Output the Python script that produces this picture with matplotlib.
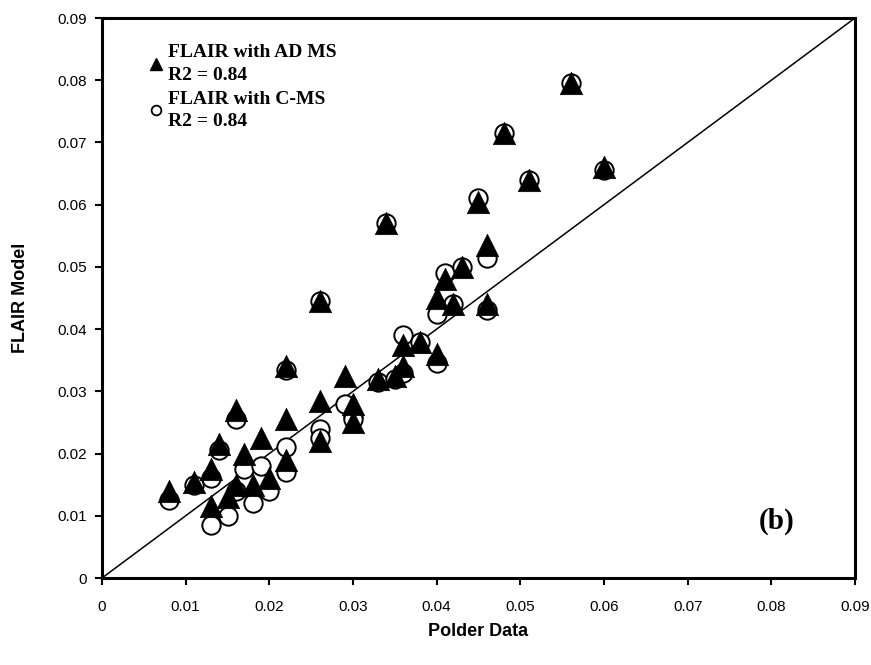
import matplotlib.pyplot as plt
from matplotlib.lines import Line2D

# Polder observations (x) and FLAIR model results (y) for the two runs
polder = [0.008, 0.011, 0.013, 0.013, 0.014, 0.015, 0.016, 0.016, 0.017, 0.018,
          0.019, 0.020, 0.022, 0.022, 0.022, 0.026, 0.026, 0.026, 0.029, 0.030,
          0.030, 0.033, 0.034, 0.035, 0.036, 0.036, 0.038, 0.040, 0.040, 0.041,
          0.042, 0.043, 0.045, 0.046, 0.046, 0.048, 0.051, 0.056, 0.060]
flair_ad_ms = [0.0140, 0.0155, 0.0115, 0.0175, 0.0215, 0.0130, 0.0270, 0.0150, 0.0200, 0.0150,
               0.0225, 0.0160, 0.0340, 0.0190, 0.0255, 0.0445, 0.0285, 0.0220, 0.0325, 0.0280,
               0.0250, 0.0320, 0.0570, 0.0325, 0.0375, 0.0340, 0.0380, 0.0360, 0.0450, 0.0480,
               0.0440, 0.0500, 0.0605, 0.0535, 0.0440, 0.0715, 0.0640, 0.0795, 0.0660]
flair_c_ms = [0.0125, 0.0150, 0.0085, 0.0160, 0.0205, 0.0100, 0.0255, 0.0140, 0.0175, 0.0120,
              0.0180, 0.0140, 0.0335, 0.0170, 0.0210, 0.0445, 0.0240, 0.0225, 0.0280, 0.0260,
              0.0255, 0.0315, 0.0570, 0.0320, 0.0390, 0.0330, 0.0380, 0.0345, 0.0425, 0.0490,
              0.0440, 0.0500, 0.0610, 0.0515, 0.0430, 0.0715, 0.0640, 0.0795, 0.0655]
r2_ad_ms = 0.84
r2_c_ms = 0.84
ticks = [0, 0.01, 0.02, 0.03, 0.04, 0.05, 0.06, 0.07, 0.08, 0.09]
tick_labels = ["0", "0.01", "0.02", "0.03", "0.04", "0.05", "0.06", "0.07", "0.08", "0.09"]

fig = plt.figure(figsize=(8.71, 6.65), dpi=100)
# axes box: x 102..855 px, y 18..578 px
ax = fig.add_axes([102 / 871, 87 / 665, 753 / 871, 560 / 665])

ax.plot([0, 0.09], [0, 0.09], color="black", linewidth=1.1, zorder=1)
ax.scatter(polder, flair_c_ms, marker="o", s=175, facecolor="white",
           edgecolor="black", linewidth=1.4, zorder=2)
ax.scatter(polder, flair_ad_ms, marker="^", s=260, facecolor="black",
           edgecolor="black", linewidth=0.5, zorder=3)

ax.set_xlim(0, 0.09)
ax.set_ylim(0, 0.09)
ax.set_xticks(ticks)
ax.set_xticklabels(tick_labels)
ax.set_yticks(ticks)
ax.set_yticklabels(tick_labels)
ax.tick_params(direction="out", length=5, width=1.5, labelsize=11)
ax.tick_params(axis="x", pad=11)
ax.tick_params(axis="y", pad=6)
for lab in ax.get_xticklabels() + ax.get_yticklabels():
    lab.set_family("Liberation Sans")
for sp in ax.spines.values():
    sp.set_linewidth(2.2)

ax.set_xlabel("Polder Data", fontsize=13, fontweight="bold",
              family="Liberation Sans", labelpad=6)
ax.set_ylabel("FLAIR Model", fontsize=13, fontweight="bold",
              family="Liberation Sans", labelpad=20)

handles = [
    Line2D([], [], marker="^", linestyle="none", color="black", markersize=8),
    Line2D([], [], marker="o", linestyle="none", markerfacecolor="white",
           markeredgecolor="black", markeredgewidth=1.3, markersize=7),
]
labels = [f"FLAIR with AD MS\nR2 = {r2_ad_ms}", f"FLAIR with C-MS\nR2 = {r2_c_ms}"]
leg = ax.legend(handles, labels, loc="upper left", bbox_to_anchor=(0.035, 0.985),
                frameon=False, handletextpad=0.15, handlelength=1.0, labelspacing=0.35,
                prop={"family": "Liberation Serif", "weight": "bold", "size": 14})
for t in leg.get_texts():
    t.set_linespacing(1.45)

ax.text(0.872, 0.102, "(b)", transform=ax.transAxes, fontsize=21, va="center",
        fontweight="bold", family="Liberation Serif")

fig.savefig("out.png", dpi=100)
